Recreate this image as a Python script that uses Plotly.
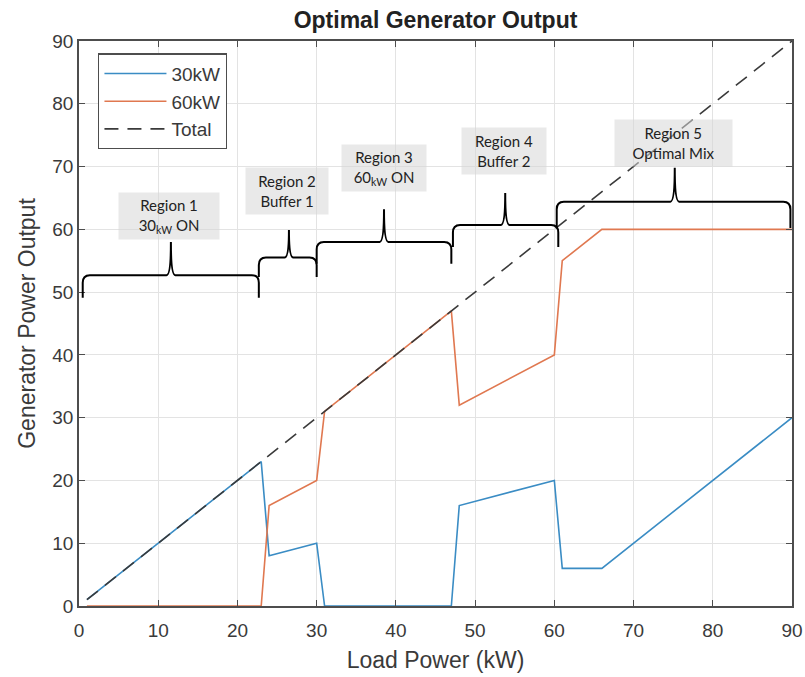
import plotly.graph_objects as go

# Load sweep breakpoints (kW) and generator outputs (kW)
load_30 = [1, 23, 24, 30, 31, 47, 48, 60, 61, 66, 90]
gen_30 = [1, 23, 8, 10, 0, 0, 16, 20, 6, 6, 30]

load_60 = [1, 23, 24, 30, 31, 47, 48, 60, 61, 66, 90]
gen_60 = [0, 0, 16, 20, 31, 47, 32, 40, 55, 60, 60]

load_total = [1, 90]
gen_total = [1, 90]

# Operating regions: label, x-span, brace level, tip height, end drop
region_labels = ["Region 1<br>30<sub>kW</sub> ON", "Region 2<br>Buffer 1",
                 "Region 3<br>60<sub>kW</sub> ON", "Region 4<br>Buffer 2",
                 "Region 5<br>Optimal Mix"]
region_x0 = [0.47, 22.7, 30.0, 47.2, 60.3]
region_x1 = [22.7, 30.0, 47.0, 60.5, 89.8]
region_tip_x = [11.6, 26.5, 38.5, 53.8, 75.2]
region_flat = [52.7, 55.5, 58.0, 60.7, 64.4]
region_tip = [58.0, 59.9, 63.2, 65.8, 69.8]
region_drop = [3.6, 3.1, 3.5, 3.5, 4.2]
label_x = [11.4, 26.3, 38.5, 53.6, 75.1]
label_y = [62.1, 66.1, 69.8, 72.5, 73.8]
label_w = [98, 80, 82, 82, 115]

fig = go.Figure()
fig.add_trace(go.Scatter(x=load_30, y=gen_30, mode="lines", name="30kW",
                         line=dict(color="#3a8cc4", width=1.6)))
fig.add_trace(go.Scatter(x=load_60, y=gen_60, mode="lines", name="60kW",
                         line=dict(color="#e07850", width=1.6)))
fig.add_trace(go.Scatter(x=load_total, y=gen_total, mode="lines", name="Total",
                         line=dict(color="#3a3a3a", width=1.6, dash="14px,9px")))


def brace_path(x0, x1, xm, yf, yt, yb):
    rx, ry = 0.9, 1.2
    sx = 0.55
    return (f"M {x0},{yb} L {x0},{yf - ry} Q {x0},{yf} {x0 + rx},{yf} "
            f"L {xm - sx},{yf} Q {xm},{yf} {xm},{yt} "
            f"Q {xm},{yf} {xm + sx},{yf} "
            f"L {x1 - rx},{yf} Q {x1},{yf} {x1},{yf - ry} L {x1},{yb}")


for i in range(len(region_labels)):
    fig.add_shape(type="path", xref="x", yref="y",
                  path=brace_path(region_x0[i], region_x1[i], region_tip_x[i],
                                  region_flat[i], region_tip[i],
                                  region_flat[i] - region_drop[i]),
                  line=dict(color="black", width=2))
    fig.add_annotation(x=label_x[i], y=label_y[i], xref="x", yref="y",
                       text=region_labels[i], showarrow=False,
                       width=label_w[i], height=44,
                       bgcolor="rgba(215,215,215,0.55)",
                       font=dict(family="Lato, Open Sans, sans-serif", size=15,
                                 color="#222222"))

axis_common = dict(showgrid=True, gridcolor="#e3e3e3", gridwidth=1,
                   showline=True, linecolor="#4d4d4d", linewidth=1.5,
                   mirror="ticks", ticks="inside", ticklen=6,
                   tickcolor="#4d4d4d", zeroline=False, automargin=False,
                   tickfont=dict(family="Liberation Sans, Arial", size=19,
                                 color="#3a3a3a"))

fig.update_xaxes(range=[0, 90], dtick=10, ticklabelstandoff=6, **axis_common,
                 title=dict(text="Load Power (kW)", standoff=12,
                            font=dict(family="Liberation Sans, Arial", size=23,
                                      color="#3a3a3a")))
fig.update_yaxes(range=[0, 90], dtick=10, **axis_common,
                 title=dict(text="Generator Power Output", standoff=10,
                            font=dict(family="Liberation Sans, Arial", size=23,
                                      color="#3a3a3a")))

fig.update_layout(
    width=805, height=677,
    margin=dict(l=79, r=13, t=41, b=71),
    paper_bgcolor="white", plot_bgcolor="white",
    title=dict(text="<b>Optimal Generator Output</b>", x=0.541, xanchor="center",
               y=0.97, yanchor="middle",
               font=dict(family="Liberation Sans, Arial", size=23, color="#222222")),
    legend=dict(x=0.027, y=0.978, xanchor="left", yanchor="top",
                bgcolor="white", bordercolor="#4d4d4d", borderwidth=1.2,
                font=dict(family="Liberation Sans, Arial", size=19, color="#3a3a3a"),
                tracegroupgap=0, itemwidth=62),
    showlegend=True,
)

fig.write_html("out.html")
